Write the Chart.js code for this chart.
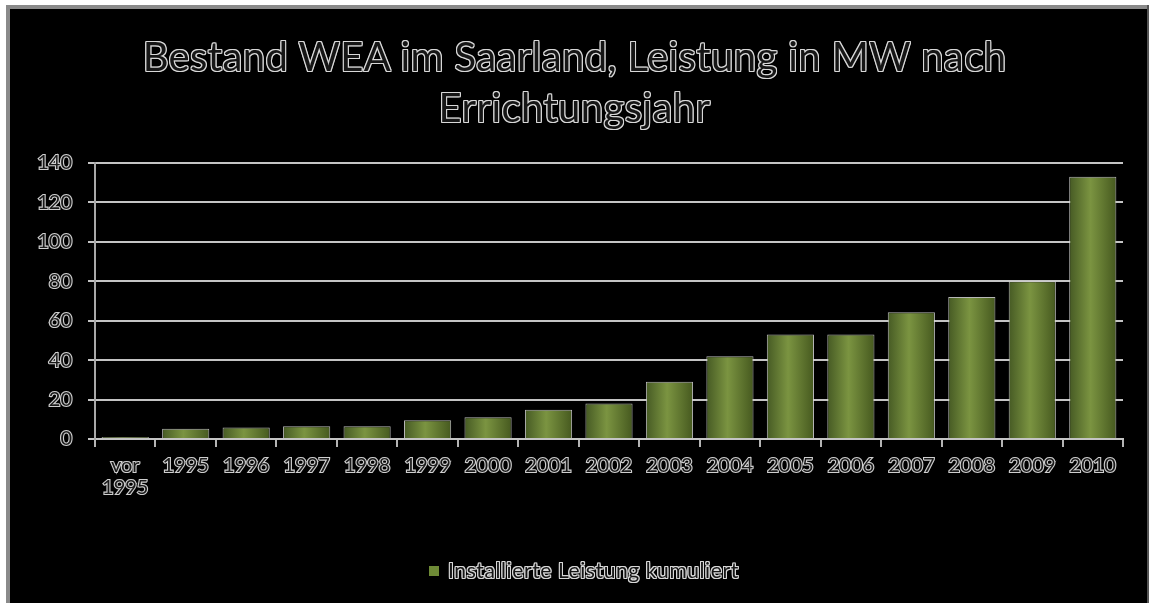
<!DOCTYPE html>
<html>
<head>
<meta charset="utf-8">
<script src="https://cdn.jsdelivr.net/npm/chart.js@4"></script>
<style>
  html, body { margin: 0; padding: 0; background: #fff; }
  body { width: 1149px; height: 603px; position: relative; overflow: hidden; }
  .rahmen {
    position: absolute; left: 6px; top: 5px; width: 1150px; height: 610px;
    background: #000; border-left: 4px solid #8a8a8a; border-top: 4px solid #8a8a8a;
    box-sizing: border-box;
  }
  .rand-rechts { position: absolute; left: 1147px; top: 5px; width: 2px; height: 598px; background: #555; }
  canvas { position: absolute; left: 0; top: 0; }
  .kontur {
    font-family: Lato, "Open Sans", sans-serif; color: #161616;
    text-shadow: -1px -1px 0 #d8d8d8, 1px -1px 0 #d8d8d8, -1px 1px 0 #d8d8d8, 1px 1px 0 #d8d8d8,
                 0 -1px 0 #d8d8d8, 0 1px 0 #d8d8d8, -1px 0 0 #d8d8d8, 1px 0 0 #d8d8d8;
  }
  #titel {
    position: absolute; left: 0; width: 1149px; top: 31px; text-align: center;
    font-size: 40px; line-height: 51px; letter-spacing: 0.4px;
  }
  #legende {
    position: absolute; left: 429px; top: 558px; font-size: 21px; line-height: 24px;
    white-space: nowrap; letter-spacing: 0.6px;
  }
  #legende span.box {
    display: inline-block; width: 10px; height: 10px; background: #6e8a36;
    margin-right: 9px; vertical-align: 2px; text-shadow: none;
  }
</style>
</head>
<body>
<div class="rahmen"></div>
<div class="rand-rechts"></div>
<canvas id="grafik" width="1149" height="603"></canvas>
<div id="titel" class="kontur">Bestand WEA im Saarland, Leistung in MW nach<br>Errichtungsjahr</div>
<div id="legende" class="kontur"><span class="box"></span>Installierte Leistung kumuliert</div>
<script>
const jahre = [['vor', '1995'], '1995', '1996', '1997', '1998', '1999', '2000', '2001', '2002',
  '2003', '2004', '2005', '2006', '2007', '2008', '2009', '2010'];
const leistung = [1, 5.2, 5.8, 6.5, 6.5, 9.5, 11, 14.9, 18, 29, 42, 53, 53, 64.3, 72, 80, 133];
const yTicks = [0, 20, 40, 60, 80, 100, 120, 140];
const serienName = 'Installierte Leistung kumuliert';

const schrift = { family: 'Lato, "Open Sans", sans-serif', size: 20, lineHeight: 1.1 };

// horizontaler Verlauf je Balken: dunkle Kanten, heller Kern
function balkenVerlauf(ctx) {
  const chart = ctx.chart;
  const x = chart.scales.x;
  if (!x || x.width === undefined || ctx.dataIndex === undefined) return '#6e8a36';
  const mitte = x.getPixelForValue(ctx.dataIndex);
  const halb = (x.width / jahre.length) * 0.78 / 2;
  const g = chart.ctx.createLinearGradient(mitte - halb, 0, mitte + halb, 0);
  g.addColorStop(0, '#465a24');
  g.addColorStop(0.45, '#7b9441');
  g.addColorStop(1, '#46591f');
  return g;
}

new Chart(document.getElementById('grafik'), {
  type: 'bar',
  data: {
    labels: jahre,
    datasets: [{
      label: serienName,
      data: leistung,
      backgroundColor: balkenVerlauf,
      borderColor: 'rgba(215, 215, 215, 0.85)',
      borderWidth: 1,
      categoryPercentage: 0.78,
      barPercentage: 1
    }]
  },
  options: {
    responsive: false,
    animation: false,
    layout: { padding: { left: 0, top: 163, right: 26, bottom: 0 } },
    plugins: {
      legend: { display: false },
      title: { display: false },
      tooltip: { enabled: false }
    },
    scales: {
      x: {
        grid: { offset: true, drawOnChartArea: false, drawTicks: true, tickLength: 8, color: '#b4b4b4', lineWidth: 2 },
        border: { display: true, color: '#c4c4c4', width: 2 },
        ticks: {
          font: schrift, color: '#1a1a1a', textStrokeColor: '#cfcfcf', textStrokeWidth: 2.2,
          padding: 8, maxRotation: 0, autoSkip: false
        },
        afterFit: s => { s.height = 164; }
      },
      y: {
        min: 0, max: 140,
        afterBuildTicks: s => { s.ticks = yTicks.map(v => ({ value: v })); },
        grid: { color: '#c4c4c4', lineWidth: 2, tickLength: 7, drawTicks: true },
        border: { display: true, color: '#a8a8a8', width: 2 },
        ticks: {
          font: schrift, color: '#1a1a1a', textStrokeColor: '#cfcfcf', textStrokeWidth: 2.2,
          padding: 16
        },
        afterFit: s => { s.width = 95; }
      }
    }
  }
});
</script>
</body>
</html>
